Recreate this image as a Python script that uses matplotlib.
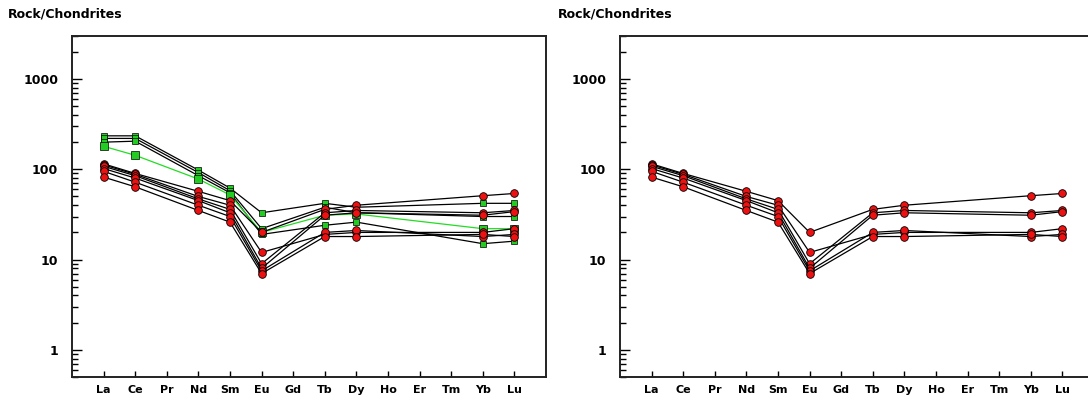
import matplotlib.pyplot as plt
from matplotlib.ticker import LogLocator, NullFormatter, FixedLocator

# REE spider diagram, chondrite normalised
elements = ["La", "Ce", "Pr", "Nd", "Sm", "Eu", "Gd", "Tb", "Dy", "Ho", "Er", "Tm", "Yb", "Lu"]
measured = ["La", "Ce", "Nd", "Sm", "Eu", "Tb", "Dy", "Yb", "Lu"]

# red samples (both panels)
red_samples = [
    [115, 90, 57, 45, 20, 36, 40, 51, 54],
    [112, 88, 50, 40, 12, 19, 20, 20, 22],
    [108, 85, 47, 36, 9, 33, 35, 33, 35],
    [102, 80, 45, 33, 8, 31, 33, 31, 34],
    [95, 72, 40, 30, 7.5, 20, 21, 18, 19],
    [82, 64, 35, 26, 7, 18, 18, 19, 18],
]

# green samples (left panel only); first one drawn with a green line
green_samples = [
    [180, 143, 78, 52, 20, 31, 32, 22, 22],
    [235, 235, 98, 62, 33, 42, 38, 42, 42],
    [220, 220, 92, 58, 22, 38, 33, 30, 30],
    [200, 205, 85, 55, 19, 24, 26, 15, 16],
]

xpos = [elements.index(e) + 1 for e in measured]

fig = plt.figure(figsize=(10.88, 4.05), dpi=100)
ax1 = fig.add_axes([72 / 1088, 28 / 405, 474 / 1088, 341 / 405])
ax2 = fig.add_axes([620 / 1088, 28 / 405, 474 / 1088, 341 / 405])


def style(ax):
    ax.set_yscale("log")
    ax.set_ylim(0.5, 3000)
    ax.set_xlim(0, 15)
    ax.xaxis.set_major_locator(FixedLocator(range(1, 15)))
    ax.set_xticklabels(elements, fontsize=8, fontweight="bold")
    ax.yaxis.set_major_locator(FixedLocator([1, 10, 100, 1000]))
    ax.set_yticklabels(["1", "10", "100", "1000"], fontsize=9, fontweight="bold")
    ax.yaxis.set_minor_locator(LogLocator(base=10, subs=range(2, 10)))
    ax.yaxis.set_minor_formatter(NullFormatter())
    ax.tick_params(axis="y", which="major", direction="in", length=7, width=1, pad=10)
    ax.tick_params(axis="y", which="minor", direction="in", length=4, width=1)
    ax.tick_params(axis="x", direction="in", length=4, width=1, pad=6)
    for s in ax.spines.values():
        s.set_linewidth(1.4)
        s.set_color("#222222")


style(ax1)
style(ax2)

for g in green_samples[1:]:
    ax1.plot(xpos, g, color="k", lw=0.9, marker="s", ms=4,
             mfc="#22cc22", mec="k", mew=0.5)
ax1.plot(xpos, green_samples[0], color="#22dd22", lw=0.9, marker="s", ms=5.5,
         mfc="#22cc22", mec="k", mew=0.5, zorder=3)

for ax in (ax1, ax2):
    for r in red_samples:
        ax.plot(xpos, r, color="k", lw=0.9, marker="o", ms=5.5,
                mfc="#ee1111", mec="k", mew=0.6, zorder=4)

fig.text(8 / 1088, 1 - 14 / 405, "Rock/Chondrites", fontsize=9, fontweight="bold", va="center")
fig.text(558 / 1088, 1 - 14 / 405, "Rock/Chondrites", fontsize=9, fontweight="bold", va="center")

fig.savefig("out.png", dpi=100)
